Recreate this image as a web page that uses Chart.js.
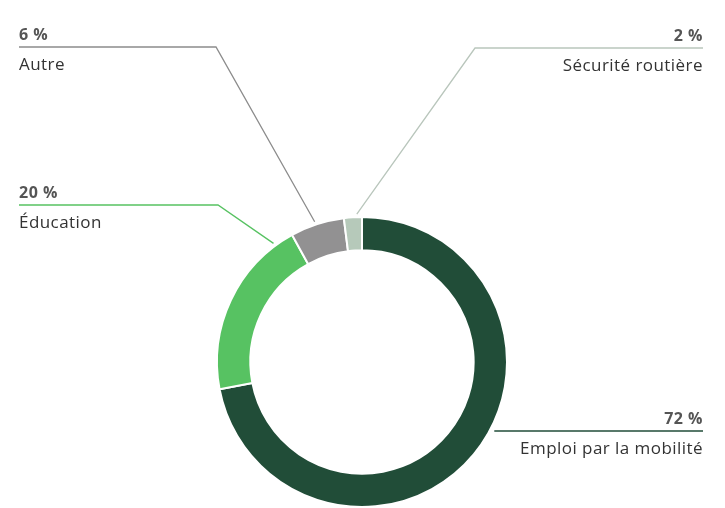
<!DOCTYPE html>
<html>
<head>
<meta charset="utf-8">
<script src="https://cdn.jsdelivr.net/npm/chart.js@4.4.0/dist/chart.umd.min.js"></script>
<style>
    html, body { margin: 0; padding: 0; background: #fff; }
    #wrap { width: 725px; height: 508px; }
</style>
</head>
<body>
<div id="wrap"><canvas id="grafica"></canvas></div>
<script>
const categorias = ["Emploi par la mobilité", "Éducation", "Autre", "Sécurité routière"];
const valores = [72, 20, 6, 2];
const colores = ["#214d38", "#57c262", "#929192", "#b6c9ba"];
const coloresLinea = ["#214d38", "#57c262", "#8c8c8c", "#b9c6bc"];

// where each label sits (layout only)
const etiquetas = [
    { lado: "right", lineaY: 431, codo: null, frac: 0.45 },
    { lado: "left",  lineaY: 205, codo: 218,  frac: 0.89 },
    { lado: "left",  lineaY: 47,  codo: 216,  frac: 0.47 },
    { lado: "right", lineaY: 48,  codo: 475,  frac: 0.72 }
];

const MARGEN_IZQ = 19;
const MARGEN_DER = 703;

const pluginEtiquetas = {
    id: "etiquetas",
    afterDraw(chart) {
        const ctx = chart.ctx;
        const arcos = chart.getDatasetMeta(0).data;

        arcos.forEach((arco, i) => {
            const e = etiquetas[i];
            const p = arco.getProps(["x", "y", "startAngle", "endAngle", "outerRadius"], true);
            const ang = p.startAngle + (p.endAngle - p.startAngle) * e.frac;
            const r = p.outerRadius + 3;
            const px = p.x + Math.cos(ang) * r;
            const py = p.y + Math.sin(ang) * r;

            ctx.save();
            ctx.strokeStyle = coloresLinea[i];
            ctx.lineWidth = 1.3;
            ctx.beginPath();
            if (e.codo === null) {
                ctx.moveTo(px, e.lineaY);
                ctx.lineTo(MARGEN_DER, e.lineaY);
            } else {
                ctx.moveTo(px, py);
                ctx.lineTo(e.codo, e.lineaY);
                ctx.lineTo(e.lado === "left" ? MARGEN_IZQ : MARGEN_DER, e.lineaY);
            }
            ctx.stroke();

            const tx = e.lado === "left" ? MARGEN_IZQ : MARGEN_DER;
            ctx.textAlign = e.lado === "left" ? "left" : "right";
            ctx.textBaseline = "alphabetic";

            ctx.fillStyle = "#555555";
            ctx.font = "bold 16px 'Open Sans'";
            ctx.letterSpacing = "0.5px";
            ctx.fillText(valores[i] + " %", tx, e.lineaY - 7);

            ctx.fillStyle = "#333333";
            ctx.font = "17px 'Open Sans'";
            ctx.letterSpacing = "0.45px";
            ctx.fillText(categorias[i], tx, e.lineaY + 23);
            ctx.restore();
        });
    }
};

const ctx = document.getElementById("grafica").getContext("2d");

new Chart(ctx, {
    type: "doughnut",
    data: {
        labels: categorias,
        datasets: [{
            data: valores,
            backgroundColor: colores,
            borderColor: "#ffffff",
            borderWidth: 2
        }]
    },
    options: {
        responsive: true,
        maintainAspectRatio: false,
        animation: false,
        cutout: "77%",
        layout: {
            padding: { left: 216, right: 217, top: 216, bottom: 0 }
        },
        plugins: {
            legend: { display: false },
            tooltip: { enabled: false }
        }
    },
    plugins: [pluginEtiquetas]
});
</script>
</body>
</html>
